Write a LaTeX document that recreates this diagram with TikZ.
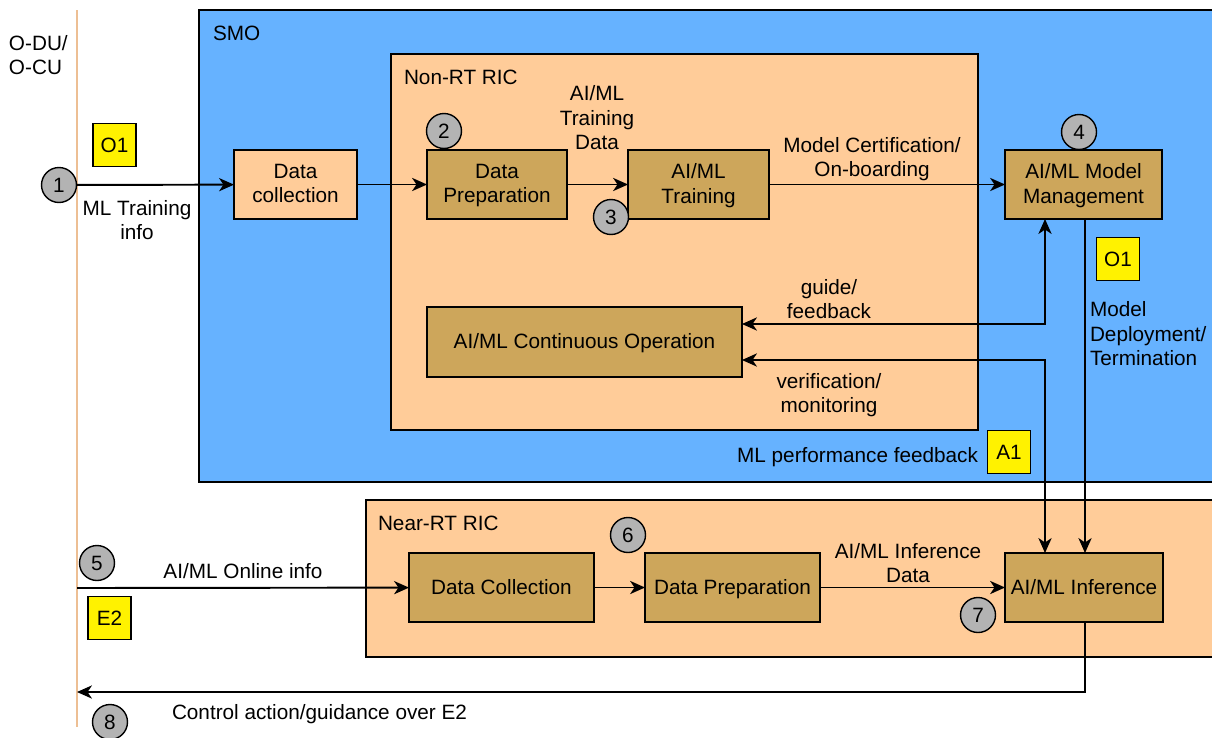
\documentclass[tikz,border=0pt]{standalone}
\usepackage{fontspec}
\setmainfont{Liberation Sans}
\usetikzlibrary{arrows.meta}

\definecolor{smoblue}{HTML}{66B2FF}
\definecolor{ricorange}{HTML}{FFCC99}
\definecolor{fnbrown}{HTML}{CDA65B}
\definecolor{stepgray}{HTML}{B3B3B3}
\definecolor{ifline}{HTML}{EDBF94}

\begin{document}
\begin{tikzpicture}[x=0.02cm,y=-0.02cm,inner sep=0pt,outer sep=0pt,line width=1.1pt,
>={Stealth[length=8.5pt,width=7.5pt,inset=2.5pt]},
font=\fontsize{11.8}{13.9}\selectfont,
fnblock/.style={draw,rectangle,fill=fnbrown,minimum height=1.38cm,align=center,line width=1.1pt,text depth=0.2ex},
stepnum/.style={draw,circle,fill=stepgray,minimum size=0.7cm,line width=0.8pt},
ifbox/.style={draw,rectangle,fill=yellow,minimum size=0.86cm,line width=1pt}]
\useasboundingbox (0,0) rectangle (1212,737);

% interface line and containers
\draw[ifline,line width=1.2pt] (77,10) coordinate (ifT) -- (77,727) coordinate (ifB);
\draw[fill=smoblue,line width=1.1pt] (199,10) rectangle (1218,482);
\draw[fill=ricorange,line width=1.1pt] (391,54) rectangle (978,430);
\draw[fill=ricorange,line width=1.1pt] (366,500) rectangle (1218,657);
\draw (213,33) node[anchor=west] (smo) {SMO};
\draw (404,77) node[anchor=west] (nonrt) {Non-RT RIC};
\draw (378,523) node[anchor=west] (nearrt) {Near-RT RIC};
\draw (9,55) node[anchor=west,align=left] (odu) {O-DU/\\O-CU};

% Non-RT RIC blocks
\draw (295.5,184.5) node[fnblock,fill=ricorange,minimum width=2.46cm] (DC) {Data\\collection};
\draw (497,184.5) node[fnblock,minimum width=2.8cm] (DP) {Data\\Preparation};
\draw (698.5,184.5) node[fnblock,minimum width=2.82cm] (TR) {AI/ML\\Training};
\draw (1083.5,184.5) node[fnblock,minimum width=3.14cm] (MM) {AI/ML Model\\Management};
\draw (584.5,342) node[fnblock,minimum width=6.3cm,minimum height=1.4cm] (CO) {AI/ML Continuous Operation};

% Near-RT RIC blocks
\draw (501.5,587.5) node[fnblock,minimum width=3.7cm] (nDC) {Data Collection};
\draw (732.5,587.5) node[fnblock,minimum width=3.5cm] (nDP) {Data Preparation};
\draw (1084,587.5) node[fnblock,minimum width=3.16cm] (INF) {AI/ML Inference};

\coordinate (gf) at (1045,324);
\coordinate (vm) at (1045,360);
\coordinate (md) at (1085,400);
\coordinate (ctl) at (77,692);
\coordinate (onl) at (77,588);

% steps
\draw (59,185) node[stepnum] (s1) {1};
\draw (444,131) node[stepnum] (s2) {2};
\draw (611,217) node[stepnum] (s3) {3};
\draw (1079,132) node[stepnum] (s4) {4};
\draw (97,563) node[stepnum] (s5) {5};
\draw (628,535) node[stepnum] (s6) {6};
\draw (978,615) node[stepnum] (s7) {7};
\draw (110,722) node[stepnum] (s8) {8};

% interfaces
\draw (114.5,145) node[ifbox] (o1a) {O1};
\draw (1118,259) node[ifbox] (o1b) {O1};
\draw (1009,452) node[ifbox] (a1) {A1};
\draw (109.5,618) node[ifbox] (e2) {E2};

% flows
\draw[->] (s1) -- (DC);
\draw[->] (DC) -- (DP);
\draw[->] (DP) -- (TR);
\draw[->] (TR) -- (MM);
\draw[<->] (CO.east |- gf) -- (gf) -- (MM.south -| gf);
\draw[<->] (CO.east |- vm) -- (vm) -- (INF.north -| vm);
\draw[->] (MM.south -| md) -- (INF.north -| md);
\draw[->] (onl) -- (nDC);
\draw[->] (nDC) -- (nDP);
\draw[->] (nDP) -- (INF);
\draw[->] (INF.south -| md) |- (ctl);

% labels
\draw (137,220) node[align=center] {ML Training\\info};
\draw (597,118) node[align=center] {AI/ML\\Training\\Data};
\draw (872,159) node[align=center] {Model Certification/\\On-boarding};
\draw (829,299) node[align=center] {guide/\\feedback};
\draw (829,395) node[align=center] {verification/\\monitoring};
\draw (978,457) node[anchor=east] {ML performance feedback};
\draw (1090,334) node[anchor=west,align=left] {Model\\Deployment/\\Termination};
\draw (243,571) node {AI/ML Online info};
\draw (908,563) node[align=center] {AI/ML Inference\\Data};
\draw (172,714) node[anchor=west] {Control action/guidance over E2};
\end{tikzpicture}
\end{document}
